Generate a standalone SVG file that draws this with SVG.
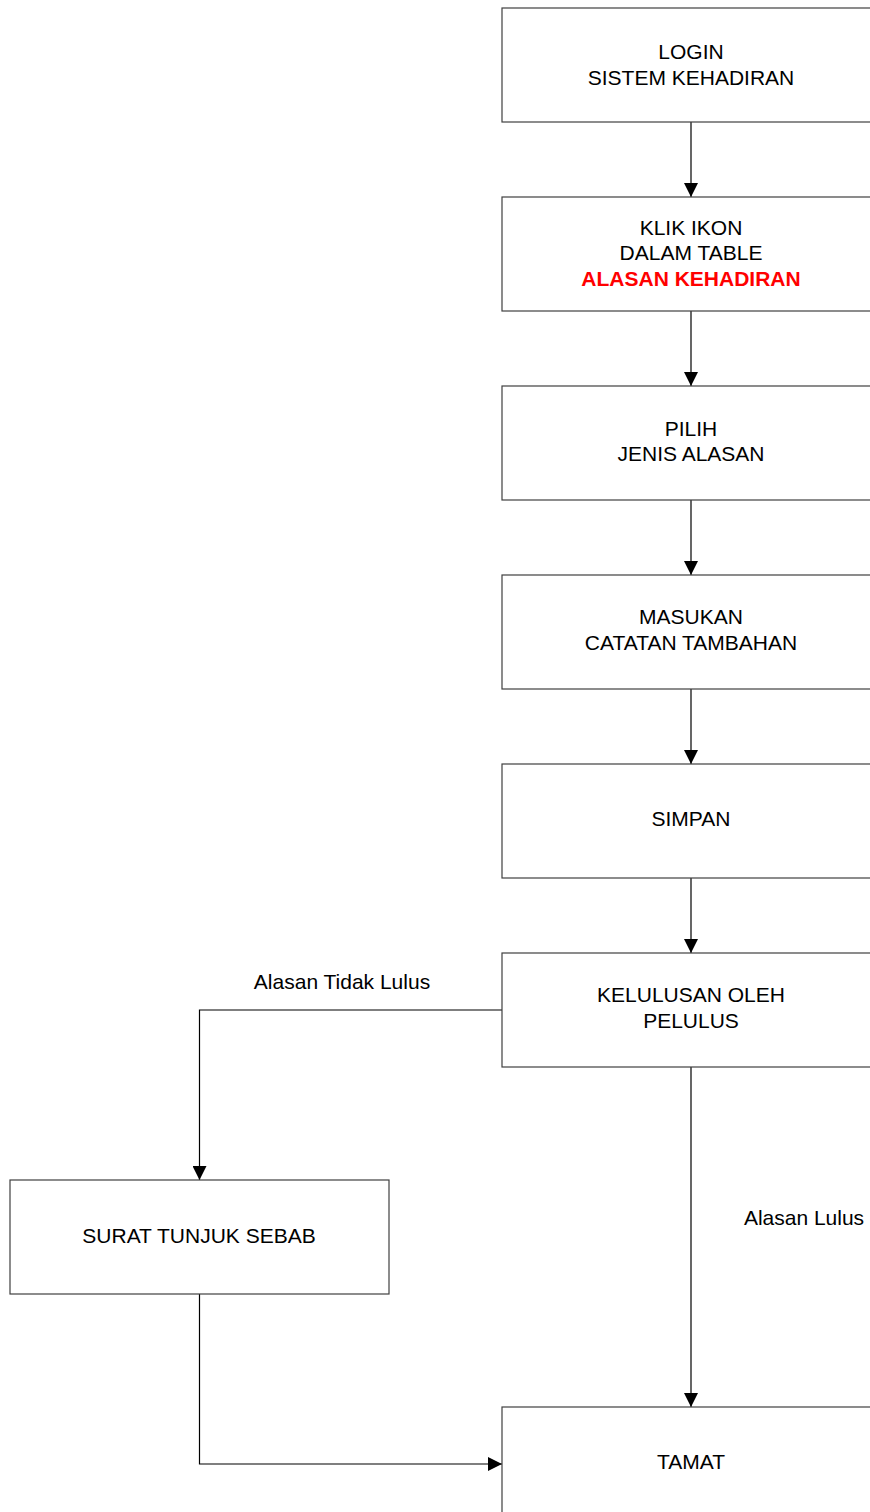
<svg xmlns="http://www.w3.org/2000/svg" width="870" height="1512" viewBox="0 0 870 1512">
<style>
.box{fill:#fff;stroke:#404040;stroke-width:1.2}
.t{font-family:"Liberation Sans",Arial,sans-serif;font-size:21px;fill:#000;text-anchor:middle}
.r{fill:#ff0000;font-weight:bold}
.e{fill:none;stroke:#000;stroke-width:1.2}
</style>
<defs>
<marker id="ah" viewBox="0 0 14 14" refX="14" refY="7" markerWidth="14" markerHeight="14" markerUnits="userSpaceOnUse" orient="auto">
<path d="M0,0 L14,7 L0,14 Z" fill="#000"/>
</marker>
</defs>
<rect width="870" height="1512" fill="#fff"/>
<g id="connectors">
<line class="e" x1="691" y1="122" x2="691" y2="197" marker-end="url(#ah)"/>
<line class="e" x1="691" y1="311" x2="691" y2="386" marker-end="url(#ah)"/>
<line class="e" x1="691" y1="500" x2="691" y2="575" marker-end="url(#ah)"/>
<line class="e" x1="691" y1="689" x2="691" y2="764" marker-end="url(#ah)"/>
<line class="e" x1="691" y1="878" x2="691" y2="953" marker-end="url(#ah)"/>
<polyline class="e" points="502,1010 199.5,1010 199.5,1180" marker-end="url(#ah)"/>
<line class="e" x1="691" y1="1067" x2="691" y2="1407" marker-end="url(#ah)"/>
<polyline class="e" points="199.5,1294 199.5,1464 502,1464" marker-end="url(#ah)"/>
<text class="t" x="342" y="989">Alasan Tidak Lulus</text>
<text class="t" x="804" y="1225">Alasan Lulus</text>
</g>
<g id="login">
<rect class="box" x="502" y="8" width="378" height="114"/>
<text class="t" x="691" y="59">LOGIN</text>
<text class="t" x="691" y="85">SISTEM KEHADIRAN</text>
</g>
<g id="klik">
<rect class="box" x="502" y="197" width="378" height="114"/>
<text class="t" x="691" y="235">KLIK IKON</text>
<text class="t" x="691" y="260">DALAM TABLE</text>
<text class="t r" x="691" y="286">ALASAN KEHADIRAN</text>
</g>
<g id="pilih">
<rect class="box" x="502" y="386" width="378" height="114"/>
<text class="t" x="691" y="436">PILIH</text>
<text class="t" x="691" y="461">JENIS ALASAN</text>
</g>
<g id="masukan">
<rect class="box" x="502" y="575" width="378" height="114"/>
<text class="t" x="691" y="624">MASUKAN</text>
<text class="t" x="691" y="650">CATATAN TAMBAHAN</text>
</g>
<g id="simpan">
<rect class="box" x="502" y="764" width="378" height="114"/>
<text class="t" x="691" y="826">SIMPAN</text>
</g>
<g id="kelulusan">
<rect class="box" x="502" y="953" width="378" height="114"/>
<text class="t" x="691" y="1002">KELULUSAN OLEH</text>
<text class="t" x="691" y="1028">PELULUS</text>
</g>
<g id="surat">
<rect class="box" x="10" y="1180" width="379" height="114"/>
<text class="t" x="199" y="1243">SURAT TUNJUK SEBAB</text>
</g>
<g id="tamat">
<rect class="box" x="502" y="1407" width="378" height="114"/>
<text class="t" x="691" y="1469">TAMAT</text>
</g>
</svg>
